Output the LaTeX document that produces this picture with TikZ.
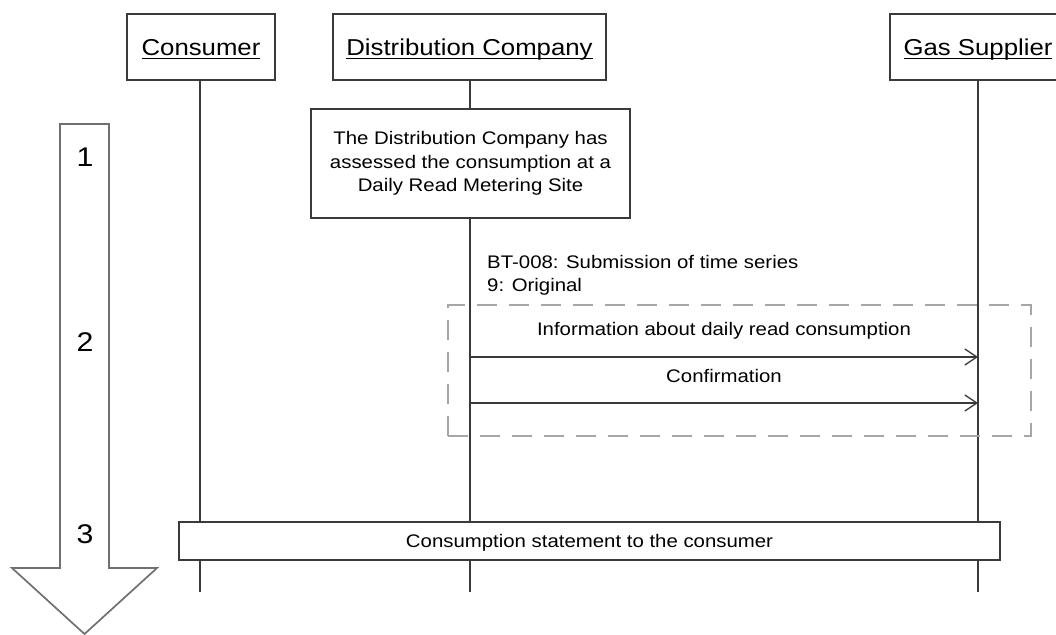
\documentclass[tikz,border=0pt]{standalone}
\usepackage{fontspec}
\setmainfont{Liberation Sans}[FakeStretch=1.12]
\usetikzlibrary{arrows.meta}

\definecolor{boxline}{HTML}{3A3A3A}
\definecolor{groupline}{HTML}{A6A6A6}
\definecolor{steparrow}{HTML}{707070}

\newcommand{\bodyfont}{\fontsize{18.2pt}{23.5pt}\selectfont}
\newcommand{\headfont}{\fontsize{23pt}{28pt}\selectfont}
\newcommand{\stepfont}{\fontsize{27pt}{30pt}\selectfont}
% underline at a fixed depth, as in the header boxes
\newcommand{\headline}[1]{\setbox0\hbox{#1}\rlap{\rule[-3.8pt]{\wd0}{1.5pt}}\box0}

\begin{document}
\begin{tikzpicture}[x=1pt,y=-1pt]
    % Define styles
    \tikzstyle{actor}=[draw=boxline,line width=1.7pt,fill=white,minimum height=66pt,inner sep=0pt,font=\headfont,text height=16.7pt,text depth=0pt]
    \tikzstyle{notebox}=[draw=boxline,line width=1.7pt,fill=white,minimum width=319pt,minimum height=109pt,inner sep=0pt,align=center,font=\bodyfont]
    \tikzstyle{lifeline}=[draw=boxline,line width=1.5pt]
    \tikzstyle{msg}=[draw=boxline,line width=1.5pt,-{Straight Barb[length=12pt,width=16pt,line width=1.3pt]}]
    \tikzstyle{msglabel}=[font=\bodyfont,anchor=base,inner sep=0pt]
    \tikzstyle{groupbox}=[draw=groupline,line width=1.8pt,dash pattern=on 20pt off 12pt,minimum width=583pt,minimum height=131pt,inner sep=0pt]
    \tikzstyle{stepnum}=[font=\stepfont,inner sep=0pt]
    \useasboundingbox (0,0) rectangle (1056,634);

    % Draw the step arrow
    \draw[steparrow,line width=1.7pt,line join=miter,fill=white]
        (60,124) -- (109,124) -- (109,568) -- (157,568) -- (84.5,634)
        -- (12,568) -- (60,568) -- cycle;
    \node[stepnum] (s1) at (85,157) {1};
    \node[stepnum] (s2) at (85,342) {2};
    \node[stepnum] (s3) at (85,534) {3};

    % Draw the lifelines
    \coordinate (consumer-end) at (200,592);
    \coordinate (dc-end) at (470,592);
    \coordinate (gas-end) at (978,592);
    \node[actor,minimum width=148pt] (consumer) at (201,47) {\headline{Consumer}};
    \node[actor,minimum width=273pt] (dc) at (469.5,47) {\headline{Distribution Company}};
    \node[actor,minimum width=176pt] (gas) at (978,47) {\headline{Gas Supplier}};
    \node[notebox] (note) at (470.5,163.5) {The Distribution Company has\\assessed the consumption at a\\Daily Read Metering Site};
    \draw[lifeline] (consumer-end |- consumer.south) -- (consumer-end);
    \draw[lifeline] (dc-end |- dc.south) -- (dc-end |- note.north);
    \draw[lifeline] (dc-end |- note.south) -- (dc-end);
    \draw[lifeline] (gas-end |- gas.south) -- (gas-end);

    % Add the message group
    \node[anchor=base west,font=\bodyfont,inner sep=0pt] (bt) at (487,268) {BT-008: Submission of time series};
    \node[anchor=base west,font=\bodyfont,inner sep=0pt] (orig) at (487,291) {9: Original};
    \node[groupbox] (group) at (739.5,370.5) {};

    % Draw the messages
    \coordinate (m1) at (470,357);
    \coordinate (m2) at (470,403);
    \draw[msg] (m1) -- (m1 -| gas-end);
    \draw[msg] (m2) -- (m2 -| gas-end);
    \node[msglabel] (info) at (724,335) {Information about daily read consumption};
    \node[msglabel] (conf) at (724,382) {Confirmation};

    % Add the statement box
    \node[draw=boxline,line width=1.7pt,fill=white,minimum width=821pt,minimum height=38pt,inner sep=0pt,font=\bodyfont,text height=13pt,text depth=0pt] (statement) at (589.5,541) {Consumption statement to the consumer};
\end{tikzpicture}
\end{document}
